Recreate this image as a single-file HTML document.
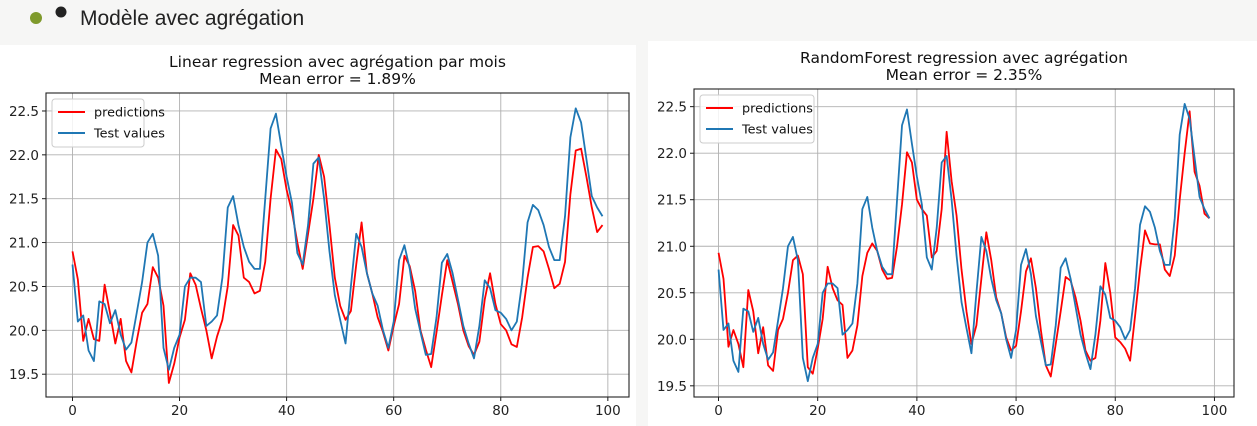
<!DOCTYPE html>
<html><head><meta charset="utf-8">
<style>
body{margin:0;width:1257px;height:426px;background:#f6f6f5;overflow:hidden;font-family:"DejaVu Sans","Liberation Sans",sans-serif;}
svg{position:absolute;left:0;top:0}
</style></head>
<body>
<svg id="c" width="1257" height="426">
<circle cx="36" cy="18" r="6" fill="#7f9a2c"/>
<circle cx="61" cy="12" r="5.5" fill="#222"/>
<text x="80" y="25" font-family="Liberation Sans, sans-serif" font-size="21" fill="#222">Modèle avec agrégation</text>
<rect x="0" y="45" width="636" height="381" fill="#fff"/>
<rect x="648" y="41" width="609" height="385" fill="#fff"/>
</svg>
<script>
const xTicks=[0,20,40,60,80,100];
const yTicks=[19.5,20.0,20.5,21.0,21.5,22.0,22.5];
const testValues=[20.75,20.1,20.17,19.77,19.65,20.33,20.3,20.08,20.23,19.95,19.78,19.86,20.2,20.55,21.0,21.1,20.85,19.8,19.55,19.8,19.95,20.5,20.6,20.6,20.55,20.05,20.1,20.17,20.6,21.4,21.53,21.2,20.95,20.78,20.7,20.7,21.5,22.3,22.47,22.1,21.75,21.45,20.88,20.75,21.2,21.9,21.97,21.5,20.9,20.4,20.12,19.85,20.5,21.1,20.95,20.65,20.42,20.28,20.0,19.8,20.1,20.8,20.97,20.7,20.25,19.98,19.72,19.73,20.15,20.77,20.87,20.65,20.35,20.05,19.85,19.68,20.05,20.57,20.48,20.23,20.2,20.13,20.0,20.1,20.55,21.23,21.43,21.37,21.2,20.95,20.8,20.8,21.3,22.2,22.53,22.37,21.95,21.53,21.4,21.3];
const linearPred=[20.9,20.58,19.88,20.13,19.9,19.88,20.52,20.2,19.85,20.13,19.65,19.52,19.88,20.2,20.3,20.72,20.6,20.28,19.4,19.62,19.92,20.12,20.65,20.52,20.25,20.0,19.68,19.93,20.12,20.5,21.2,21.08,20.6,20.55,20.42,20.45,20.78,21.5,22.06,21.95,21.6,21.35,21.0,20.7,21.1,21.5,22.0,21.75,21.2,20.6,20.28,20.12,20.22,20.75,21.23,20.65,20.42,20.15,19.98,19.77,20.05,20.3,20.85,20.73,20.45,20.0,19.78,19.58,19.98,20.4,20.8,20.55,20.3,20.0,19.82,19.72,19.87,20.35,20.65,20.3,20.07,20.0,19.84,19.81,20.15,20.6,20.95,20.96,20.9,20.7,20.48,20.53,20.78,21.55,22.05,22.07,21.75,21.4,21.12,21.2];
const rfPred=[20.93,20.65,19.92,20.1,19.95,19.7,20.53,20.3,19.85,20.13,19.72,19.66,20.1,20.22,20.5,20.85,20.9,20.7,19.7,19.63,19.9,20.22,20.78,20.55,20.42,20.37,19.8,19.88,20.15,20.68,20.93,21.03,20.95,20.75,20.65,20.66,21.0,21.45,22.01,21.9,21.5,21.4,21.33,20.88,20.95,21.4,22.23,21.7,21.33,20.75,20.3,19.95,20.15,20.65,21.15,20.85,20.45,20.28,20.02,19.88,19.93,20.3,20.73,20.87,20.55,20.1,19.72,19.6,19.95,20.3,20.67,20.63,20.45,20.2,19.88,19.77,19.8,20.2,20.82,20.5,20.02,19.97,19.9,19.77,20.25,20.75,21.17,21.03,21.02,21.02,20.75,20.68,20.9,21.5,22.0,22.45,21.8,21.65,21.35,21.3];

const NS="http://www.w3.org/2000/svg";
const svg=document.getElementById('c');
function mk(tag,attrs,parent,name){const e=document.createElementNS(NS,tag);for(const k in attrs)e.setAttribute(k,attrs[k]);


(parent||svg).appendChild(e);return e;}

function chart(cfg){
  const g=mk('g',{},svg,cfg.id);
  const xs=v=>cfg.L+(v-cfg.xmin)/(cfg.xmax-cfg.xmin)*(cfg.R-cfg.L);
  const ys=v=>cfg.B-(v-cfg.ymin)/(cfg.ymax-cfg.ymin)*(cfg.B-cfg.T);
  xTicks.forEach(t=>{const x=xs(t);
    mk('line',{x1:x,x2:x,y1:cfg.T,y2:cfg.B,stroke:'#b0b0b0','stroke-width':0.9},g,'x-gridline');
    mk('line',{x1:x,x2:x,y1:cfg.B,y2:cfg.B+4,stroke:'#000','stroke-width':0.9},g,'x-tick');
    const tx=mk('text',{x:x,y:cfg.B+18,'text-anchor':'middle','font-size':13.5,fill:'#222'},g,'x-tick-label');tx.textContent=t;});
  yTicks.forEach(t=>{const y=ys(t);
    mk('line',{x1:cfg.L,x2:cfg.R,y1:y,y2:y,stroke:'#b0b0b0','stroke-width':0.9},g,'y-gridline');
    mk('line',{x1:cfg.L-4,x2:cfg.L,y1:y,y2:y,stroke:'#000','stroke-width':0.9},g,'y-tick');
    const tx=mk('text',{x:cfg.L-7,y:y+5,'text-anchor':'end','font-size':13.5,fill:'#222'},g,'y-tick-label');tx.textContent=t.toFixed(1);});
  const path=(arr,col,name)=>{let d='';arr.forEach((v,i)=>{d+=(i?'L':'M')+xs(i).toFixed(2)+','+ys(v).toFixed(2);});
    mk('path',{d:d,fill:'none',stroke:col,'stroke-width':1.8,'stroke-linejoin':'round'},g,name);};
  path(cfg.pred,'#ff0000','predictions-line');
  path(testValues,'#1f77b4','test-values-line');
  mk('rect',{x:cfg.L,y:cfg.T,width:cfg.R-cfg.L,height:cfg.B-cfg.T,fill:'none',stroke:'#222','stroke-width':1.1},g,'plot-frame');
  const t1=mk('text',{x:(cfg.L+cfg.R)/2,y:cfg.T-26,'text-anchor':'middle','font-size':15.5,fill:'#111'},g,'chart-title');t1.textContent=cfg.title;
  const t2=mk('text',{x:(cfg.L+cfg.R)/2,y:cfg.T-9,'text-anchor':'middle','font-size':15.5,fill:'#111'},g,'chart-subtitle');t2.textContent=cfg.sub;
  const lg=mk('g',{},g,'legend');
  const lx=cfg.L+6,ly=cfg.T+6;
  mk('rect',{x:lx,y:ly,width:cfg.lw,height:48,rx:3,fill:'#fff','fill-opacity':0.85,stroke:'#ccc'},lg,'legend-box');
  [['predictions','#ff0000'],['Test values','#1f77b4']].forEach((e,i)=>{const y=ly+13+i*21;
    mk('line',{x1:lx+6,x2:lx+33,y1:y,y2:y,stroke:e[1],'stroke-width':2},lg,'legend-swatch');
    const tx=mk('text',{x:lx+42,y:y+4.5,'font-size':12.8,fill:'#111'},lg,'legend-entry');tx.textContent=e[0];});
}
chart({id:'linear-chart',L:46,R:629,T:93,B:397,xmin:-4.95,xmax:103.95,ymin:19.24,ymax:22.705,pred:linearPred,
  title:'Linear regression avec agrégation par mois',sub:'Mean error = 1.89%',lw:92});
chart({id:'randomforest-chart',L:694,R:1234,T:89,B:397,xmin:-4.95,xmax:103.95,ymin:19.38,ymax:22.69,pred:rfPred,
  title:'RandomForest regression avec agrégation',sub:'Mean error = 2.35%',lw:114});
</script>
</body></html>
